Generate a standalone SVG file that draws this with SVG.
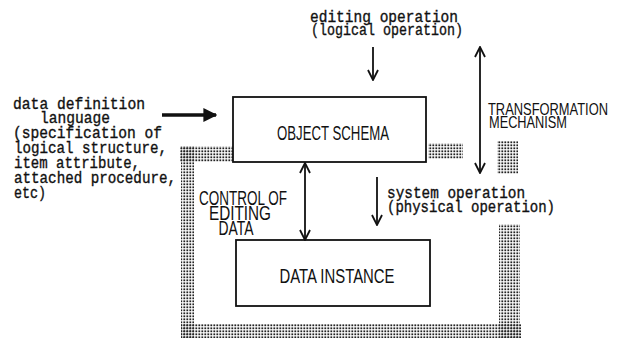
<svg xmlns="http://www.w3.org/2000/svg" width="617" height="340" viewBox="0 0 617 340">
<defs>
<pattern id="dots" width="3" height="3" patternUnits="userSpaceOnUse">
<rect x="0.4" y="0.4" width="1.8" height="1.8" fill="#222"/>
</pattern>
<marker id="open" viewBox="0 0 12 12" refX="11" refY="6" markerWidth="12" markerHeight="12" markerUnits="userSpaceOnUse" orient="auto-start-reverse">
<path d="M1,1 L11,6 L1,11" fill="none" stroke="#111" stroke-width="1.8"/>
</marker>
<marker id="solid" viewBox="0 0 10 10" refX="9" refY="5" markerWidth="4" markerHeight="4" orient="auto">
<path d="M0,0 L10,5 L0,10 Z" fill="#111"/>
</marker>
</defs>
<style>
.box{fill:#fff;stroke:#111;stroke-width:1.8}
.mono{font-family:"Liberation Mono","DejaVu Sans Mono",monospace;font-size:16px;fill:#111;stroke:#111;stroke-width:0.35}
.cap{font-family:"Liberation Sans","DejaVu Sans",sans-serif;font-size:20px;fill:#111}
.cap2{font-family:"Liberation Sans","DejaVu Sans",sans-serif;font-size:17px;fill:#111}
.ln{stroke:#111;stroke-width:1.8;fill:none}
</style>
<rect width="617" height="340" fill="#fff"/>
<g id="frame" fill="url(#dots)">
<rect x="180" y="146" width="53" height="16"/>
<rect x="181" y="146" width="13" height="192"/>
<rect x="181" y="324" width="340" height="14"/>
<rect x="499" y="224" width="21" height="114"/>
<rect x="428" y="143" width="35" height="16"/>
<rect x="497" y="141" width="21" height="33"/>
</g>
<g id="object-schema">
<rect class="box" x="233" y="97" width="193" height="65"/>
<text class="cap" x="333" y="140" text-anchor="middle" textLength="112" lengthAdjust="spacingAndGlyphs">OBJECT SCHEMA</text>
</g>
<g id="data-instance">
<rect class="box" x="236" y="240" width="194" height="66"/>
<text class="cap" x="337" y="283" text-anchor="middle" textLength="115" lengthAdjust="spacingAndGlyphs">DATA INSTANCE</text>
</g>
<g id="ddl-label">
<text class="mono" x="13" y="109" textLength="132" lengthAdjust="spacingAndGlyphs">data definition</text>
<text class="mono" x="40" y="123" textLength="70" lengthAdjust="spacingAndGlyphs">language</text>
<text class="mono" x="13" y="138" textLength="149" lengthAdjust="spacingAndGlyphs">(specification of</text>
<text class="mono" x="14" y="153" textLength="153" lengthAdjust="spacingAndGlyphs">logical structure,</text>
<text class="mono" x="14" y="168" textLength="126" lengthAdjust="spacingAndGlyphs">item attribute,</text>
<text class="mono" x="14" y="183" textLength="162" lengthAdjust="spacingAndGlyphs">attached procedure,</text>
<text class="mono" x="14" y="198" textLength="32" lengthAdjust="spacingAndGlyphs">etc)</text>
</g>
<g id="editing-label">
<text class="mono" x="310" y="22" textLength="148" lengthAdjust="spacingAndGlyphs">editing operation</text>
<text class="mono" x="311" y="35" textLength="152" lengthAdjust="spacingAndGlyphs">(logical operation)</text>
</g>
<g id="transformation-label">
<text class="cap2" x="488" y="115" textLength="120" lengthAdjust="spacingAndGlyphs">TRANSFORMATION</text>
<text class="cap2" x="489" y="128" textLength="78" lengthAdjust="spacingAndGlyphs">MECHANISM</text>
</g>
<g id="system-label">
<text class="mono" x="387" y="198" textLength="138" lengthAdjust="spacingAndGlyphs">system operation</text>
<text class="mono" x="387" y="212" textLength="168" lengthAdjust="spacingAndGlyphs">(physical operation)</text>
</g>
<g id="control-label">
<text class="cap" x="243" y="205" text-anchor="middle" textLength="88" lengthAdjust="spacingAndGlyphs">CONTROL OF</text>
<text class="cap" x="240" y="220" text-anchor="middle" textLength="62" lengthAdjust="spacingAndGlyphs">EDITING</text>
<text class="cap" x="236" y="235" text-anchor="middle" textLength="35" lengthAdjust="spacingAndGlyphs">DATA</text>
</g>
<g id="connectors">
<line x1="162" y1="115" x2="216" y2="115" stroke="#111" stroke-width="3.5" marker-end="url(#solid)"/>
<line class="ln" x1="373" y1="47" x2="373" y2="80" marker-end="url(#open)"/>
<line class="ln" x1="480" y1="47" x2="480" y2="173" marker-start="url(#open)" marker-end="url(#open)"/>
<line class="ln" x1="305" y1="163" x2="305" y2="240" marker-start="url(#open)" marker-end="url(#open)"/>
<line class="ln" x1="377" y1="177" x2="377" y2="225" marker-end="url(#open)"/>
</g>
</svg>
